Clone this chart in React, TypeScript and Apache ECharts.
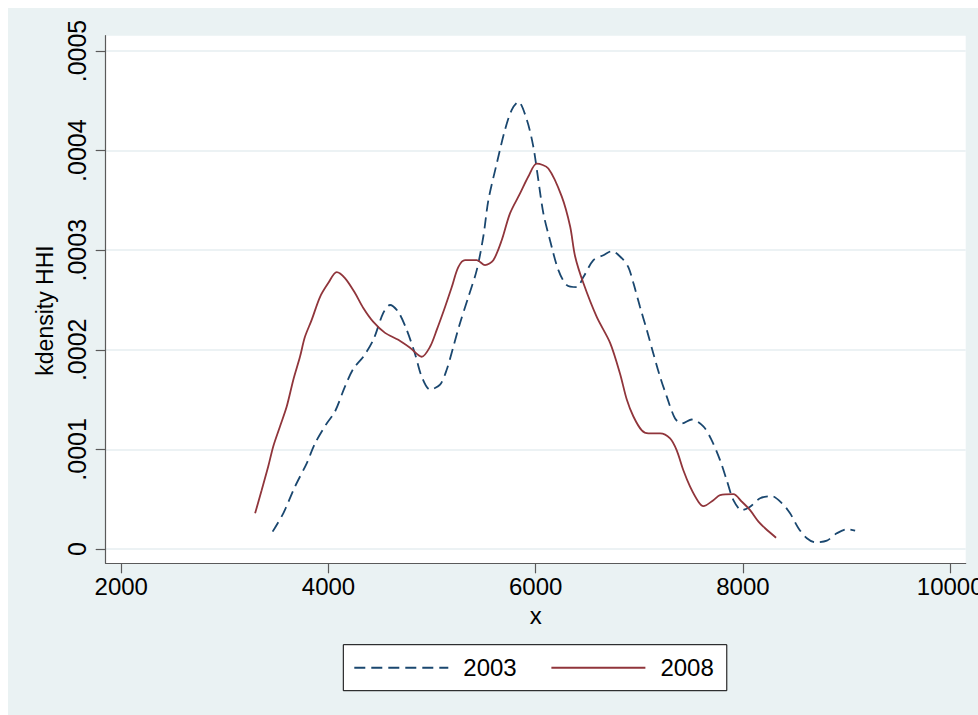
import React, { useEffect, useRef } from "react";
import * as echarts from "echarts";

// Kernel density estimates of HHI
const x2003 = [3461, 3564, 3677, 3790, 3870, 3983, 4063, 4159, 4240, 4336, 4433, 4529, 4594, 4674, 4755, 4835, 4900, 4980, 5077, 5141, 5205, 5270, 5350, 5431, 5495, 5543, 5624, 5704, 5769, 5833, 5914, 5977, 6026, 6074, 6138, 6219, 6300, 6396, 6460, 6557, 6653, 6734, 6831, 6894, 6943, 7007, 7072, 7136, 7200, 7265, 7345, 7410, 7506, 7618, 7699, 7780, 7844, 7908, 7989, 8069, 8166, 8279, 8375, 8455, 8536, 8617, 8697, 8810, 8906, 9003, 9083];
const d2003 = [0.174e-4, 0.358e-4, 0.626e-4, 0.86e-4, 1.06e-4, 1.26e-4, 1.38e-4, 1.63e-4, 1.81e-4, 1.93e-4, 2.10e-4, 2.37e-4, 2.45e-4, 2.38e-4, 2.20e-4, 1.96e-4, 1.73e-4, 1.60e-4, 1.65e-4, 1.80e-4, 2.03e-4, 2.27e-4, 2.53e-4, 2.80e-4, 3.14e-4, 3.50e-4, 3.87e-4, 4.21e-4, 4.41e-4, 4.49e-4, 4.31e-4, 4.04e-4, 3.70e-4, 3.37e-4, 3.10e-4, 2.80e-4, 2.65e-4, 2.63e-4, 2.73e-4, 2.90e-4, 2.95e-4, 2.99e-4, 2.92e-4, 2.83e-4, 2.67e-4, 2.43e-4, 2.20e-4, 1.96e-4, 1.73e-4, 1.53e-4, 1.31e-4, 1.26e-4, 1.30e-4, 1.23e-4, 1.09e-4, 0.89e-4, 0.69e-4, 0.49e-4, 0.39e-4, 0.425e-4, 0.509e-4, 0.53e-4, 0.46e-4, 0.358e-4, 0.208e-4, 0.107e-4, 0.067e-4, 0.084e-4, 0.157e-4, 0.197e-4, 0.184e-4];

const x2008 = [3292, 3355, 3419, 3467, 3532, 3597, 3661, 3725, 3773, 3838, 3918, 3998, 4079, 4159, 4256, 4336, 4433, 4546, 4674, 4787, 4900, 4980, 5045, 5125, 5190, 5253, 5318, 5431, 5511, 5591, 5672, 5752, 5849, 5929, 6010, 6122, 6251, 6332, 6380, 6460, 6589, 6718, 6814, 6879, 6943, 7024, 7088, 7200, 7297, 7361, 7425, 7490, 7570, 7618, 7715, 7780, 7908, 7989, 8069, 8150, 8214, 8320];
const d2008 = [0.358e-4, 0.59e-4, 0.83e-4, 1.03e-4, 1.23e-4, 1.43e-4, 1.70e-4, 1.93e-4, 2.13e-4, 2.30e-4, 2.53e-4, 2.67e-4, 2.78e-4, 2.72e-4, 2.57e-4, 2.42e-4, 2.28e-4, 2.17e-4, 2.10e-4, 2.02e-4, 1.93e-4, 2.03e-4, 2.20e-4, 2.43e-4, 2.63e-4, 2.83e-4, 2.90e-4, 2.90e-4, 2.85e-4, 2.90e-4, 3.10e-4, 3.37e-4, 3.57e-4, 3.74e-4, 3.87e-4, 3.82e-4, 3.54e-4, 3.24e-4, 2.94e-4, 2.67e-4, 2.33e-4, 2.07e-4, 1.76e-4, 1.50e-4, 1.33e-4, 1.19e-4, 1.16e-4, 1.16e-4, 1.11e-4, 0.99e-4, 0.79e-4, 0.626e-4, 0.475e-4, 0.43e-4, 0.49e-4, 0.54e-4, 0.55e-4, 0.475e-4, 0.39e-4, 0.274e-4, 0.208e-4, 0.113e-4];

const xTicks = [2000, 4000, 6000, 8000, 10000];
const yTicks = [0, 0.0001, 0.0002, 0.0003, 0.0004, 0.0005];
const seriesNames = ["2003", "2008"];

const FONT = '"Liberation Sans", Arial, Helvetica, sans-serif';
const AXIS_COLOR = "#5a5a5a";

export default function App() {
  const ref = useRef<HTMLDivElement>(null);

  useEffect(() => {
    if (!ref.current) return;
    const chart = echarts.init(ref.current, undefined, { renderer: "svg" });
    const pairs = (xs: number[], ys: number[]) => xs.map((x, i) => [x, ys[i]]);
    chart.setOption({
      animation: false,
      backgroundColor: "#eaf2f3",
      grid: {
        left: 97.7,
        top: 27.7,
        width: 860,
        height: 527.6,
        show: true,
        backgroundColor: "#ffffff",
        borderWidth: 0,
        outerBoundsMode: "none",
        containLabel: false,
      },
      legend: {
        left: 335.3,
        top: 636.7,
        orient: "horizontal",
        data: seriesNames,
        itemWidth: 94,
        itemHeight: 24,
        itemGap: 33.7,
        padding: [11, 13, 11, 10],
        backgroundColor: "#ffffff",
        borderColor: "#000000",
        borderWidth: 1,
        borderRadius: 0,
        itemStyle: { opacity: 0 },
        textStyle: {
          fontSize: 24,
          fontFamily: FONT,
          color: "#000000",
          lineHeight: 24,
          padding: [0, 0, 0, 10],
        },
      },
      xAxis: {
        type: "value",
        min: 1850,
        max: 10150,
        axisLine: { show: true, onZero: false, lineStyle: { color: AXIS_COLOR, width: 1.2 } },
        axisTick: { show: true, length: 10, customValues: xTicks, lineStyle: { color: AXIS_COLOR, width: 1.2 } },
        axisLabel: {
          customValues: xTicks,
          margin: 11,
          fontSize: 24,
          fontFamily: FONT,
          color: "#000000",
          formatter: (v: number) => String(v),
        },
        splitLine: { show: false },
        name: "x",
        nameLocation: "middle",
        nameGap: 37,
        nameTextStyle: { fontSize: 24, fontFamily: FONT, color: "#000000" },
      },
      yAxis: {
        type: "value",
        min: -0.0000144,
        max: 0.0005154,
        axisLine: { show: true, lineStyle: { color: AXIS_COLOR, width: 1.2 } },
        axisTick: { show: true, length: 10, customValues: yTicks, lineStyle: { color: AXIS_COLOR, width: 1.2 } },
        axisLabel: {
          customValues: yTicks,
          rotate: 90,
          margin: 16,
          fontSize: 25,
          fontFamily: FONT,
          color: "#000000",
          formatter: (v: number) => (v === 0 ? "0" : v.toFixed(4).replace(/^0/, "")),
        },
        splitLine: { show: true, lineStyle: { color: "#e6eef1", width: 1.6 } },
        name: "kdensity HHI",
        nameLocation: "middle",
        nameGap: 36,
        nameRotate: 90,
        nameTextStyle: {
          fontSize: 23,
          fontFamily: FONT,
          color: "#000000",
          padding: [0, 22, 0, 0],
        },
      },
      series: [
        {
          name: seriesNames[0],
          type: "line",
          data: pairs(x2003, d2003),
          showSymbol: false,
          symbol: "none",
          smooth: 0.3,
          lineStyle: { color: "#1a476f", width: 1.8, type: [11, 6] },
          itemStyle: { color: "#1a476f" },
        },
        {
          name: seriesNames[1],
          type: "line",
          data: pairs(x2008, d2008),
          showSymbol: false,
          symbol: "none",
          smooth: 0.3,
          lineStyle: { color: "#90353b", width: 1.8, type: "solid" },
          itemStyle: { color: "#90353b" },
        },
      ],
    });
    return () => chart.dispose();
  }, []);

  return (
    <div
      ref={ref}
      style={{ position: "absolute", left: 8, top: 8, width: 970, height: 707 }}
    />
  );
}
